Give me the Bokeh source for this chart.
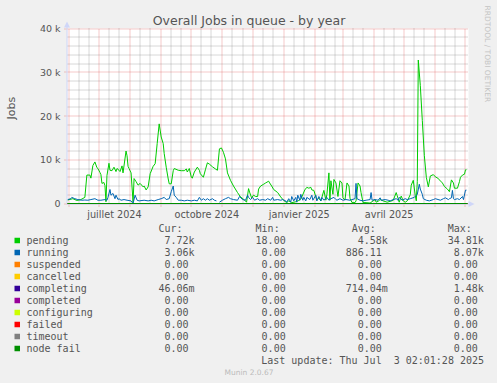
import math
import numpy as np
import pandas as pd
from bokeh.plotting import figure
from bokeh.layouts import column, row
from bokeh.models import Range1d, FixedTicker, ColumnDataSource
from bokeh.core.properties import value
from bokeh.embed import file_html
from bokeh.resources import INLINE

# ---------------- data ----------------
title_text = "Overall Jobs in queue - by year"
y_label = "Jobs"
y_ticks = [0, 10000, 20000, 30000, 40000]
y_tick_labels = ["0", "10 k", "20 k", "30 k", "40 k"]
label_months = ["2024-07-01", "2024-10-01", "2025-01-01", "2025-04-01"]
x_tick_labels = ["juillet 2024", "octobre 2024", "janvier 2025", "avril 2025"]

pending_dates = [
    "2024-05-31", "2024-06-05", "2024-06-09", "2024-06-13", "2024-06-17", "2024-06-19", "2024-06-22",
    "2024-06-23", "2024-06-25", "2024-06-27", "2024-06-29", "2024-06-30", "2024-07-02", "2024-07-03",
    "2024-07-04", "2024-07-06", "2024-07-07", "2024-07-08", "2024-07-09", "2024-07-11", "2024-07-12",
    "2024-07-14", "2024-07-16", "2024-07-18", "2024-07-19", "2024-07-21", "2024-07-22", "2024-07-24",
    "2024-07-25", "2024-07-28", "2024-07-29", "2024-07-30", "2024-07-31", "2024-08-02", "2024-08-04",
    "2024-08-05", "2024-08-07", "2024-08-09", "2024-08-11", "2024-08-14", "2024-08-15", "2024-08-17",
    "2024-08-19", "2024-08-21", "2024-08-24", "2024-08-26", "2024-08-28", "2024-08-30", "2024-09-01",
    "2024-09-03", "2024-09-04", "2024-09-06", "2024-09-08", "2024-09-09", "2024-09-11", "2024-09-13",
    "2024-09-14", "2024-09-18", "2024-09-21", "2024-09-24", "2024-09-26", "2024-09-27", "2024-09-29",
    "2024-10-01", "2024-10-02", "2024-10-04", "2024-10-07", "2024-10-09", "2024-10-10", "2024-10-13",
    "2024-10-15", "2024-10-17", "2024-10-19", "2024-10-22", "2024-10-25", "2024-10-27", "2024-10-29",
    "2024-10-31", "2024-11-02", "2024-11-04", "2024-11-06", "2024-11-09", "2024-11-12", "2024-11-16",
    "2024-11-19", "2024-11-22", "2024-11-25", "2024-11-27", "2024-11-28", "2024-11-30", "2024-12-02",
    "2024-12-04", "2024-12-06", "2024-12-07", "2024-12-09", "2024-12-12", "2024-12-14", "2024-12-17",
    "2024-12-18", "2024-12-20", "2024-12-22", "2024-12-26", "2024-12-29", "2025-01-01", "2025-01-04",
    "2025-01-06", "2025-01-09", "2025-01-13", "2025-01-16", "2025-01-18", "2025-01-19", "2025-01-22",
    "2025-01-24", "2025-01-26", "2025-01-28", "2025-01-29", "2025-01-31", "2025-02-02", "2025-02-03",
    "2025-02-05", "2025-02-07", "2025-02-08", "2025-02-10", "2025-02-12", "2025-02-13", "2025-02-15",
    "2025-02-16", "2025-02-17", "2025-02-19", "2025-02-20", "2025-02-22", "2025-02-24", "2025-02-26",
    "2025-02-28", "2025-03-01", "2025-03-03", "2025-03-05", "2025-03-07", "2025-03-08", "2025-03-10",
    "2025-03-13", "2025-03-14", "2025-03-16", "2025-03-18", "2025-03-19", "2025-03-21", "2025-03-24",
    "2025-03-28", "2025-03-31", "2025-04-02", "2025-04-03", "2025-04-05", "2025-04-07", "2025-04-10",
    "2025-04-14", "2025-04-17", "2025-04-20", "2025-04-23", "2025-04-24", "2025-04-26", "2025-04-28",
    "2025-04-30", "2025-05-02", "2025-05-04", "2025-05-07", "2025-05-08", "2025-05-10", "2025-05-12",
    "2025-05-13", "2025-05-14", "2025-05-15", "2025-05-17", "2025-05-19", "2025-05-21", "2025-05-23",
    "2025-05-25", "2025-05-27", "2025-05-30", "2025-06-01", "2025-06-04", "2025-06-05", "2025-06-08",
    "2025-06-10", "2025-06-13", "2025-06-15", "2025-06-17", "2025-06-19", "2025-06-20", "2025-06-23",
    "2025-06-25", "2025-06-26", "2025-06-28", "2025-06-30", "2025-07-01", "2025-07-02",
]
pending_values = [
    800, 1100, 700, 900, 1400, 6500, 6500,
    5800, 8700, 9500, 8200, 8000, 7100, 6600,
    4600, 4800, 4100, 400, 6400, 9200, 7600,
    7500, 8300, 7300, 8000, 7600, 7300, 8600,
    7000, 12000, 10900, 8500, 8000, 7000, 300,
    5700, 5000, 4200, 4600, 3800, 4000, 3100,
    3800, 6800, 8500, 9100, 13700, 18200, 15200,
    13700, 11400, 8300, 5600, 4500, 4500, 7500,
    8000, 7600, 7500, 7500, 7900, 7200, 8000,
    6000, 5800, 7200, 8300, 7600, 6800, 6000,
    7700, 9300, 9000, 8400, 7900, 7600, 12500,
    12700, 11700, 10200, 7000, 5300, 4000, 2500,
    1500, 1000, 300, 3400, 2600, 1300, 1900,
    1600, 1600, 3300, 4000, 4400, 4700, 5100,
    4700, 4000, 3200, 2500, 1500, 700, 200,
    600, 200, 400, 700, 1000, 1500, 3100,
    3700, 3500, 3700, 3100, 3000, 1500, 760,
    1200, 600, 1400, 3000, 760, 2100, 7000,
    760, 5200, 2100, 5500, 4700, 1600, 5200,
    4700, 1300, 800, 4700, 4000, 1200, 200,
    200, 600, 4700, 4000, 2500, 200, 200,
    100, 600, 900, 300, 500, 900, 600,
    300, 500, 700, 2500, 1800, 300, 1700,
    600, 300, 600, 2000, 4200, 5300, 1800,
    600, 5000, 32800, 27000, 19000, 11000, 6000,
    3800, 6300, 6600, 6100, 5700, 5400, 4700,
    3900, 3300, 2700, 5400, 4700, 3500, 3500,
    5000, 6000, 6500, 6700, 7700, 7720,
]

running_dates = [
    "2024-05-31", "2024-06-03", "2024-06-04", "2024-06-07", "2024-06-10", "2024-06-14", "2024-06-17",
    "2024-06-20", "2024-06-23", "2024-06-27", "2024-06-30", "2024-07-03", "2024-07-07", "2024-07-09",
    "2024-07-10", "2024-07-12", "2024-07-13", "2024-07-15", "2024-07-17", "2024-07-18", "2024-07-20",
    "2024-07-21", "2024-07-23", "2024-07-26", "2024-07-29", "2024-08-02", "2024-08-04", "2024-08-06",
    "2024-08-08", "2024-08-10", "2024-08-15", "2024-08-19", "2024-08-22", "2024-08-25", "2024-08-29",
    "2024-09-01", "2024-09-04", "2024-09-06", "2024-09-09", "2024-09-11", "2024-09-13", "2024-09-14",
    "2024-09-16", "2024-09-18", "2024-09-21", "2024-09-24", "2024-09-27", "2024-10-01", "2024-10-04",
    "2024-10-07", "2024-10-09", "2024-10-11", "2024-10-13", "2024-10-15", "2024-10-17", "2024-10-19",
    "2024-10-22", "2024-10-24", "2024-10-26", "2024-10-27", "2024-10-29", "2024-11-01", "2024-11-04",
    "2024-11-07", "2024-11-09", "2024-11-12", "2024-11-16", "2024-11-18", "2024-11-21", "2024-11-24",
    "2024-11-26", "2024-11-27", "2024-11-29", "2024-12-01", "2024-12-03", "2024-12-06", "2024-12-08",
    "2024-12-11", "2024-12-14", "2024-12-16", "2024-12-19", "2024-12-21", "2024-12-22", "2024-12-26",
    "2024-12-29", "2024-12-31", "2025-01-03", "2025-01-04", "2025-01-06", "2025-01-08", "2025-01-09",
    "2025-01-11", "2025-01-13", "2025-01-14", "2025-01-15", "2025-01-17", "2025-01-18", "2025-01-20",
    "2025-01-21", "2025-01-23", "2025-01-24", "2025-01-27", "2025-01-29", "2025-01-30", "2025-02-02",
    "2025-02-03", "2025-02-05", "2025-02-07", "2025-02-08", "2025-02-10", "2025-02-13", "2025-02-15",
    "2025-02-17", "2025-02-20", "2025-02-22", "2025-02-23", "2025-02-26", "2025-03-01", "2025-03-04",
    "2025-03-08", "2025-03-13", "2025-03-14", "2025-03-15", "2025-03-18", "2025-03-21", "2025-03-24",
    "2025-03-28", "2025-03-29", "2025-03-30", "2025-04-02", "2025-04-05", "2025-04-07", "2025-04-08",
    "2025-04-12", "2025-04-15", "2025-04-17", "2025-04-20", "2025-04-23", "2025-04-25", "2025-04-26",
    "2025-04-29", "2025-05-02", "2025-05-04", "2025-05-07", "2025-05-11", "2025-05-14", "2025-05-16",
    "2025-05-17", "2025-05-19", "2025-05-20", "2025-05-23", "2025-05-26", "2025-05-30", "2025-06-01",
    "2025-06-06", "2025-06-09", "2025-06-11", "2025-06-14", "2025-06-15", "2025-06-17", "2025-06-18",
    "2025-06-19", "2025-06-20", "2025-06-23", "2025-06-25", "2025-06-28", "2025-06-29", "2025-07-01",
    "2025-07-02",
]
running_values = [
    900, 1100, 1400, 1100, 900, 750, 800,
    750, 900, 1100, 750, 750, 900, 750,
    1400, 3200, 1900, 2300, 1100, 1900, 900,
    1100, 750, 900, 750, 600, 0, 1900,
    750, 600, 750, 600, 750, 600, 900,
    1100, 1400, 900, 1100, 2700, 4000, 1900,
    1400, 750, 750, 600, 750, 600, 750,
    600, 1400, 750, 1100, 750, 1100, 750,
    1100, 750, 600, float("nan"), 300, 750, 1100,
    1400, 1100, 900, 750, 1600, 900, 750,
    1900, 1400, 900, 1400, 750, 1100, 750,
    900, 750, 1100, 750, 1400, 750, 900,
    750, 900, 600, 300, 1100, 300, 1600,
    600, 1400, 300, 1900, 750, 2100, 750,
    1400, 600, 1400, 900, 1900, 750, 1900,
    600, 1600, 600, 1400, 750, 1400, 750,
    1100, 1400, 900, 750, 1100, 750, 900,
    750, 1100, 4600, 1100, 750, 600, 750,
    900, 2500, 750, 900, 750, 1300, 750,
    900, 750, 600, 900, 1100, 750, 1400,
    750, 1100, 900, 1100, 1400, 2100, 4400,
    3300, 2100, 1100, 750, 600, 900, 1100,
    750, 1100, 1300, 900, 1100, 1300, 3000,
    1100, 900, 1100, 900, 1600, 900, 3060,
    3060,
]

series_names = ["pending", "running", "suspended", "cancelled", "completing",
                "completed", "configuring", "failed", "timeout", "node fail"]
series_colors = ["#00CC00", "#0066B3", "#FF8000", "#FFCC00", "#330099",
                 "#990099", "#CCFF00", "#FF0000", "#808080", "#008F00"]
cur_vals = [7720, 3060, 0, 0, 0.04606, 0, 0, 0, 0, 0]
min_vals = [18, 0, 0, 0, 0, 0, 0, 0, 0, 0]
avg_vals = [4580, 886.11, 0, 0, 0.71404, 0, 0, 0, 0, 0]
max_vals = [34810, 8070, 0, 0, 1480, 0, 0, 0, 0, 0]
column_headers = ["Cur:", "Min:", "Avg:", "Max:"]
last_update = "Last update: Thu Jul \u00a03 02:01:28 2025"
footer = "Munin 2.0.67"
watermark = "RRDTOOL / TOBI OETIKER"

# ---------------- layout (page pixels) ----------------
W, H = 497, 383
TOP_H = 222          # height of the chart row
JW = 20              # width of the strip holding the unit label
A_LEFT, A_BOTTOM = 62, 207           # chart figure frame (page px)
PLOT_L, PLOT_R, PLOT_T, PLOT_B = 67, 467, 28, 203   # rrd canvas (page px)
x_start = pd.Timestamp("2024-05-30 17:00")
x_end = pd.Timestamp("2025-07-03 00:00")

TEXT = "#555555"
BG = "#F0F0F0"
AXIS = "#CFD6F8"
SANS = "DejaVu Sans"
MONO = "DejaVu Sans Mono"


def ms(ts):
    return int(pd.Timestamp(ts).value // 10**6)


x0, x1 = ms(x_start), ms(x_end)
kx = (x1 - x0) / (PLOT_R - PLOT_L)
vy = 40000.0 / (PLOT_B - PLOT_T)


def X(px):
    return x0 + (px - PLOT_L) * kx


def Y(py):
    return (PLOT_B - py) * vy


def PX(t):
    return PLOT_L + (t - x0) / kx


def PY(v):
    return PLOT_B - v / vy


def snap(p):
    return math.floor(p) + 0.5


def bare(fig):
    fig.xaxis.visible = False
    fig.yaxis.visible = False
    fig.xgrid.visible = False
    fig.ygrid.visible = False


# ---------------- chart figure ----------------
pa = figure(width=W - JW, height=TOP_H, x_axis_type="datetime", output_backend="svg",
            toolbar_location=None, title=None,
            x_range=Range1d(X(A_LEFT), X(W)), y_range=Range1d(Y(A_BOTTOM), Y(0)),
            min_border_left=A_LEFT - JW, min_border_right=0, min_border_top=0,
            min_border_bottom=TOP_H - A_BOTTOM,
            background_fill_color=BG, border_fill_color=BG, outline_line_color=None)
pa.xgrid.visible = False
pa.ygrid.visible = False

# white canvas
pa.quad(left=[X(PLOT_L)], right=[X(PLOT_R + 1)], top=[Y(PLOT_T)], bottom=[Y(PLOT_B + 0.5)],
        fill_color="white", line_color=None)

# grid lines
minor_y = [v for v in range(0, 40001, 2000) if v % 10000]
gy = [Y(snap(PY(v))) for v in minor_y]
pa.segment(x0=[X(PLOT_L)] * len(gy), x1=[X(PLOT_R + 0.5)] * len(gy), y0=gy, y1=gy,
           line_color="#8F8F8F", line_alpha=0.7, line_width=1, line_dash="1 1")
month_starts = [ms(d) for d in pd.date_range("2024-06-01", "2025-07-01", freq="MS")]
minor_x = []
for d in pd.date_range("2024-05-01", "2025-07-01", freq="MS"):
    for k in (10, 20):
        t = ms(d + pd.Timedelta(days=k))
        if x0 < t < x1:
            minor_x.append(t)
gx = [X(snap(PX(t))) for t in minor_x]
pa.segment(x0=gx, x1=gx, y0=[Y(PLOT_B)] * len(gx), y1=[Y(PLOT_T)] * len(gx),
           line_color="#8F8F8F", line_alpha=0.7, line_width=1, line_dash="1 1")
my = [Y(snap(PY(v))) for v in y_ticks]
pa.segment(x0=[X(64)] * len(my), x1=[X(PLOT_R + 0.5)] * len(my), y0=my, y1=my,
           line_color="#DE4F4F", line_alpha=0.6, line_width=1, line_dash="1 1")
mx = [X(snap(PX(t))) for t in month_starts]
pa.segment(x0=mx, x1=mx, y0=[Y(206)] * len(mx), y1=[Y(PLOT_T)] * len(mx),
           line_color="#DE4F4F", line_alpha=0.6, line_width=1, line_dash="1 1")

# axis lines and arrows
pa.segment(x0=[X(66.5), X(PLOT_L - 1)], x1=[X(66.5), X(469)], y0=[Y(PLOT_B + 0.5), Y(203.5)],
           y1=[Y(26), Y(203.5)], line_color=AXIS, line_width=1)
pa.patches(xs=[[X(63.5), X(69.5), X(66.5)], [X(468), X(468), X(474)]],
           ys=[[Y(27), Y(27), Y(21)], [Y(200.5), Y(206.5), Y(203.5)]],
           fill_color=AXIS, line_color=None)

# data series
pa.line(pd.to_datetime(pending_dates), np.array(pending_values, dtype=float),
        line_color=series_colors[0], line_width=1)
pa.line(pd.to_datetime(running_dates), np.array(running_values, dtype=float),
        line_color=series_colors[1], line_width=1)
for c in series_colors[2:]:
    pa.line([x0, x1], [0, 0], line_color=c, line_width=1)

# title and watermark (inside the frame)
pa.text(x=[X(248.5)], y=[Y(19.5)], text=[title_text], text_font=value(SANS),
        text_font_size=value("12.5px"), text_color=TEXT, text_align="center",
        text_baseline="middle")
pa.text(x=[X(486.5)], y=[Y(5)], text=[watermark], text_font=value(SANS),
        text_font_size=value("7.5px"), text_color="#C4C4C4", text_align="left",
        text_baseline="middle", angle=-math.pi / 2)

# axes (tick labels only)
label_ticks = []
for m in label_months:
    a = pd.Timestamp(m)
    b = a + pd.offsets.MonthBegin(1)
    label_ticks.append(ms(a + (b - a) / 2))
xa = pa.xaxis[0]
xa.ticker = FixedTicker(ticks=label_ticks, minor_ticks=[])
xa.major_label_overrides = dict(zip(label_ticks, x_tick_labels))
xa.major_tick_out = 0
xa.major_tick_in = 0
xa.minor_tick_out = 0
xa.minor_tick_in = 0
xa.axis_line_color = None
xa.major_label_standoff = 1
xa.major_label_text_font = SANS
xa.major_label_text_font_size = "9.7px"
xa.major_label_text_color = TEXT

ya = pa.yaxis[0]
ya.ticker = FixedTicker(ticks=y_ticks, minor_ticks=[])
ya.major_label_overrides = dict(zip(y_ticks, y_tick_labels))
ya.major_tick_out = 0
ya.major_tick_in = 0
ya.minor_tick_out = 0
ya.minor_tick_in = 0
ya.axis_line_color = None
ya.major_label_standoff = 2
ya.major_label_text_font = SANS
ya.major_label_text_font_size = "9.5px"
ya.major_label_text_color = TEXT

# ---------------- unit label strip (data y = TOP_H - page y) ----------------
pj = figure(width=JW, height=TOP_H, output_backend="svg", toolbar_location=None, title=None,
            x_range=Range1d(0, JW), y_range=Range1d(0, TOP_H),
            min_border=0, background_fill_color=BG, border_fill_color=BG, outline_line_color=None)
bare(pj)
pj.text(x=[11.2], y=[TOP_H - (PLOT_T + PLOT_B) / 2], text=[y_label], text_font=value(SANS),
        text_font_size=value("11px"), text_color=TEXT, text_align="center",
        text_baseline="middle", angle=math.pi / 2)

# ---------------- legend figure (data y = H - page y) ----------------
pb = figure(width=W, height=H - TOP_H, output_backend="svg", toolbar_location=None, title=None,
            x_range=Range1d(0, W), y_range=Range1d(0, H - TOP_H),
            min_border=0, background_fill_color=BG, border_fill_color=BG, outline_line_color=None)
bare(pb)

CH = 6.02                     # monospace advance at 10px
col_right = [194.1, 291.2, 387.3, 483.3]
ROW0 = 239.8                  # vertical centre of the first legend row (page px)
ROW_H = 12


def fmt(v):
    if v == 0:
        return "0.00", False
    if abs(v) >= 1000:
        return f"{v / 1000:.2f}k", True
    if abs(v) < 1:
        return f"{v * 1000:.2f}m", True
    return f"{v:.2f}", False


tx, ty, tt, ta = [], [], [], []
for h, r in zip(column_headers, col_right):
    tx.append(r - 2 * CH); ty.append(H - (ROW0 - ROW_H)); tt.append(h); ta.append("right")
for i, name in enumerate(series_names):
    c = ROW0 + i * ROW_H
    tx.append(26); ty.append(H - c); tt.append(name); ta.append("left")
    for vals, r in zip((cur_vals, min_vals, avg_vals, max_vals), col_right):
        s, has_suffix = fmt(vals[i])
        tx.append(r - (0 if has_suffix else CH)); ty.append(H - c); tt.append(s); ta.append("right")
tx.append(483.5); ty.append(H - (ROW0 + 10 * ROW_H)); tt.append(last_update); ta.append("right")

pb.text(x="x", y="y", text="t", text_align="a",
        source=ColumnDataSource(dict(x=tx, y=ty, t=tt, a=ta)),
        text_font=value(MONO), text_font_size=value("10px"), text_color=TEXT,
        text_baseline="middle")

sq_y = [H - (240.0 + i * ROW_H) for i in range(len(series_names))]
pb.rect(x=[16.75] * len(sq_y), y=sq_y, width=5.5, height=5.5,
        fill_color=series_colors, line_color=None)

pb.text(x=[248.5], y=[H - 371.7], text=[footer], text_font=value(SANS),
        text_font_size=value("7.5px"), text_color="#BBBBBB", text_align="center",
        text_baseline="middle")

layout = column(row(pj, pa), pb)

html = file_html(layout, INLINE)
html = html.replace("<head>", "<head><style>html,body{margin:0;padding:0;background:#F0F0F0;}</style>", 1)
open("out.html", "w").write(html)
